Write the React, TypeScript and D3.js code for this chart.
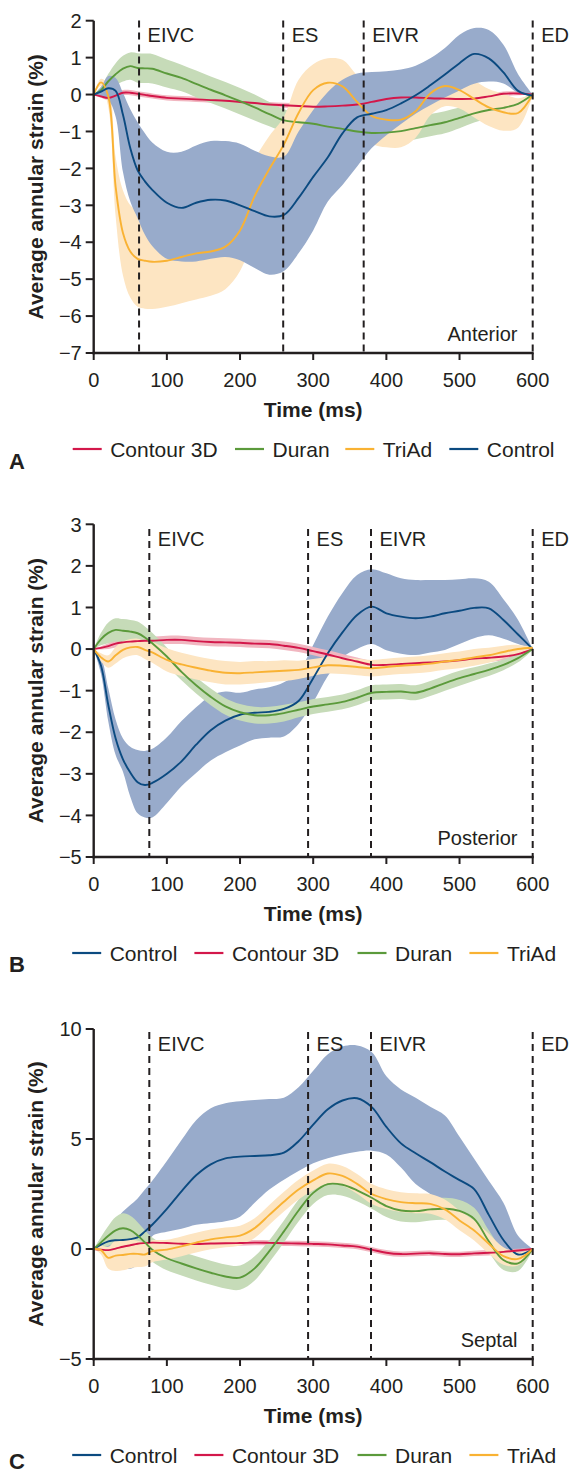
import React from 'react';
import * as d3 from 'd3';

// ---------- shared data ----------
const TIME = [0, 10, 20, 30, 40, 50, 60, 70, 80, 100, 120, 140, 160, 180, 200, 220, 240, 260, 280, 300, 320, 340, 360, 380, 400, 420, 440, 460, 480, 500, 520, 540, 560, 580, 600];
const X_TICKS = [0, 100, 200, 300, 400, 500, 600];
const EVENT_NAMES = ['EIVC', 'ES', 'EIVR', 'ED'];
const SERIES_NAMES = { control: 'Control', contour: 'Contour 3D', duran: 'Duran', triad: 'TriAd' };

// ---------- Panel A (Anterior) ----------
const A_Y_TICKS = [2, 1, 0, -1, -2, -3, -4, -5, -6, -7];
const A_EVENTS = [62, 259, 369, 600];
const A_CONTOUR_MEAN = [0, -0.05, -0.09, -0.03, 0.05, 0.05, 0.02, -0.01, -0.04, -0.09, -0.11, -0.13, -0.15, -0.17, -0.2, -0.23, -0.27, -0.29, -0.31, -0.33, -0.32, -0.3, -0.27, -0.2, -0.12, -0.08, -0.08, -0.1, -0.11, -0.12, -0.11, -0.05, 0.02, 0.03, 0];
const A_CONTOUR_SD = [0, 0.04, 0.06, 0.07, 0.07, 0.07, 0.07, 0.07, 0.07, 0.07, 0.07, 0.07, 0.07, 0.07, 0.07, 0.07, 0.07, 0.07, 0.07, 0.07, 0.07, 0.07, 0.07, 0.07, 0.07, 0.07, 0.07, 0.07, 0.07, 0.07, 0.07, 0.07, 0.06, 0.05, 0];
const A_DURAN_MEAN = [0, 0.12, 0.36, 0.55, 0.7, 0.77, 0.72, 0.71, 0.7, 0.57, 0.45, 0.29, 0.13, -0.02, -0.18, -0.35, -0.53, -0.7, -0.75, -0.79, -0.87, -0.93, -1.0, -1.04, -1.03, -0.99, -0.91, -0.83, -0.75, -0.63, -0.51, -0.42, -0.36, -0.25, 0];
const A_DURAN_SD = [0, 0.1, 0.2, 0.3, 0.35, 0.37, 0.4, 0.4, 0.4, 0.38, 0.36, 0.36, 0.36, 0.36, 0.36, 0.35, 0.33, 0.3, 0.25, 0.25, 0.25, 0.25, 0.25, 0.25, 0.28, 0.3, 0.3, 0.3, 0.3, 0.28, 0.25, 0.22, 0.18, 0.12, 0.02];
const A_TRIAD_MEAN = [0, 0.33, -0.05, -2.5, -3.75, -4.25, -4.45, -4.5, -4.53, -4.5, -4.4, -4.3, -4.25, -4.12, -3.68, -2.75, -2.02, -1.35, -0.5, 0.12, 0.32, 0.22, -0.2, -0.58, -0.68, -0.68, -0.45, 0.03, 0.23, 0.12, -0.12, -0.35, -0.48, -0.5, 0];
const A_TRIAD_SD = [0, 0.1, 0.3, 0.8, 1.15, 1.25, 1.3, 1.3, 1.28, 1.25, 1.25, 1.25, 1.2, 1.15, 1.1, 1.0, 0.9, 0.75, 0.9, 0.7, 0.66, 0.72, 0.72, 0.75, 0.75, 0.75, 0.72, 0.6, 0.55, 0.5, 0.5, 0.5, 0.5, 0.4, 0.02];
const A_CONTROL_MEAN = [0, 0.08, 0.17, 0.1, -0.55, -1.45, -2.05, -2.35, -2.58, -2.93, -3.07, -2.93, -2.85, -2.87, -3.0, -3.16, -3.3, -3.26, -2.8, -2.23, -1.7, -1.05, -0.62, -0.52, -0.42, -0.24, -0.02, 0.25, 0.54, 0.85, 1.1, 0.98, 0.6, 0.1, -0.03];
const A_CONTROL_LO = [0, -0.05, -0.15, -0.6, -2.1, -2.9, -3.35, -3.8, -4.1, -4.45, -4.52, -4.52, -4.45, -4.4, -4.49, -4.7, -4.88, -4.78, -4.3, -3.68, -2.9, -2.45, -1.95, -1.45, -1.1, -0.8, -0.52, -0.29, -0.08, 0.11, 0.29, 0.35, 0.3, 0.05, 0];
const A_CONTROL_HI = [0, 0.2, 0.5, 0.45, 0.05, -0.4, -0.75, -1.05, -1.3, -1.55, -1.55, -1.38, -1.26, -1.26, -1.33, -1.52, -1.67, -1.68, -1.0, -0.42, 0.07, 0.4, 0.57, 0.61, 0.63, 0.68, 0.78, 0.98, 1.26, 1.62, 1.8, 1.75, 1.35, 0.55, 0];

// ---------- Panel B (Posterior) ----------
const B_Y_TICKS = [3, 2, 1, 0, -1, -2, -3, -4, -5];
const B_EVENTS = [76, 293, 379, 600];
const B_CONTROL_MEAN = [0, -0.4, -1.35, -2.15, -2.65, -2.97, -3.2, -3.27, -3.22, -3.0, -2.7, -2.3, -1.95, -1.72, -1.58, -1.53, -1.51, -1.44, -1.25, -0.7, -0.1, 0.4, 0.82, 1.02, 0.86, 0.78, 0.74, 0.78, 0.86, 0.92, 0.99, 0.98, 0.7, 0.35, 0];
const B_CONTROL_LO = [0, -0.6, -1.75, -2.55, -2.95, -3.55, -3.95, -4.05, -4.05, -3.7, -3.3, -2.98, -2.68, -2.48, -2.32, -2.17, -2.13, -2.1, -1.8, -1.28, -0.65, -0.2, 0.0, 0.12, -0.03, -0.11, -0.14, -0.08, -0.02, 0.12, 0.26, 0.33, 0.25, 0.12, 0];
const B_CONTROL_HI = [0, -0.2, -0.95, -1.7, -2.15, -2.35, -2.43, -2.45, -2.4, -2.12, -1.73, -1.4, -1.12, -1.02, -1.05, -0.97, -0.92, -0.8, -0.55, 0.1, 0.78, 1.35, 1.78, 1.92, 1.82, 1.7, 1.66, 1.66, 1.66, 1.68, 1.7, 1.62, 1.2, 0.7, 0];
const B_CONTOUR_MEAN = [0, 0.03, 0.07, 0.13, 0.16, 0.18, 0.19, 0.2, 0.2, 0.22, 0.22, 0.19, 0.17, 0.16, 0.15, 0.13, 0.12, 0.08, 0.03, -0.05, -0.13, -0.22, -0.3, -0.38, -0.38, -0.36, -0.34, -0.32, -0.3, -0.27, -0.23, -0.21, -0.18, -0.12, 0];
const B_CONTOUR_SD = [0, 0.04, 0.07, 0.09, 0.1, 0.1, 0.1, 0.1, 0.1, 0.1, 0.1, 0.1, 0.1, 0.1, 0.1, 0.1, 0.1, 0.1, 0.1, 0.1, 0.1, 0.1, 0.1, 0.1, 0.1, 0.1, 0.1, 0.1, 0.1, 0.1, 0.1, 0.1, 0.09, 0.07, 0.02];
const B_DURAN_MEAN = [0, 0.24, 0.39, 0.46, 0.44, 0.42, 0.38, 0.28, 0.14, -0.18, -0.55, -0.87, -1.15, -1.38, -1.52, -1.59, -1.59, -1.54, -1.46, -1.38, -1.33, -1.27, -1.17, -1.05, -1.03, -1.02, -1.05, -0.95, -0.82, -0.7, -0.6, -0.5, -0.38, -0.22, 0];
const B_DURAN_SD = [0, 0.15, 0.25, 0.28, 0.28, 0.28, 0.28, 0.26, 0.25, 0.22, 0.2, 0.2, 0.2, 0.2, 0.2, 0.2, 0.2, 0.2, 0.18, 0.18, 0.18, 0.18, 0.18, 0.18, 0.18, 0.18, 0.18, 0.18, 0.18, 0.18, 0.16, 0.15, 0.13, 0.1, 0.02];
const B_TRIAD_MEAN = [0, -0.2, -0.3, -0.15, -0.02, 0.04, 0.05, -0.02, -0.08, -0.26, -0.37, -0.45, -0.52, -0.57, -0.58, -0.56, -0.54, -0.52, -0.5, -0.44, -0.39, -0.4, -0.43, -0.46, -0.43, -0.4, -0.38, -0.35, -0.3, -0.26, -0.2, -0.15, -0.07, 0, 0.03];
const B_TRIAD_SD = [0, 0.1, 0.15, 0.2, 0.2, 0.2, 0.2, 0.22, 0.25, 0.28, 0.28, 0.28, 0.28, 0.28, 0.27, 0.27, 0.25, 0.25, 0.22, 0.2, 0.2, 0.2, 0.2, 0.2, 0.2, 0.2, 0.2, 0.2, 0.2, 0.2, 0.2, 0.18, 0.15, 0.1, 0.02];

// ---------- Panel C (Septal) ----------
const C_Y_TICKS = [10, 5, 0, -5];
const C_EVENTS = [76, 293, 379, 600];
const C_CONTROL_MEAN = [0, 0.2, 0.35, 0.4, 0.41, 0.45, 0.53, 0.8, 1.1, 1.82, 2.62, 3.35, 3.85, 4.12, 4.2, 4.23, 4.26, 4.38, 4.9, 5.65, 6.35, 6.75, 6.85, 6.45, 5.55, 4.8, 4.35, 3.95, 3.52, 3.13, 2.72, 1.55, 0.41, -0.25, 0];
const C_CONTROL_LO = [0, -0.1, -0.4, -0.7, -0.85, -0.9, -0.7, -0.2, 0.58, 0.78, 0.92, 1.1, 1.18, 1.26, 1.47, 2.1, 2.7, 3.15, 3.55, 3.9, 4.13, 4.3, 4.42, 4.47, 4.3, 3.7, 2.95, 2.5, 2.08, 1.7, 1.15, 0.62, 0.05, -0.3, 0];
const C_CONTROL_HI = [0, 0.5, 0.95, 1.3, 1.7, 2.0, 2.3, 2.7, 3.1, 4.0, 4.95, 5.85, 6.4, 6.63, 6.72, 6.77, 6.82, 6.88, 7.35, 8.1, 8.85, 9.2, 9.25, 8.95, 7.85, 7.25, 6.88, 6.47, 6.07, 5.1, 4.1, 3.1, 2.1, 0.6, 0];
const C_CONTOUR_MEAN = [0, -0.03, -0.05, 0.02, 0.1, 0.17, 0.24, 0.27, 0.29, 0.27, 0.24, 0.23, 0.25, 0.26, 0.27, 0.29, 0.28, 0.26, 0.25, 0.23, 0.21, 0.16, 0.11, -0.03, -0.17, -0.23, -0.21, -0.19, -0.23, -0.24, -0.2, -0.17, -0.13, -0.07, 0];
const C_CONTOUR_SD = [0, 0.06, 0.1, 0.12, 0.12, 0.12, 0.12, 0.12, 0.12, 0.12, 0.12, 0.12, 0.12, 0.12, 0.12, 0.12, 0.12, 0.12, 0.12, 0.12, 0.12, 0.12, 0.12, 0.12, 0.12, 0.12, 0.12, 0.12, 0.12, 0.12, 0.12, 0.12, 0.1, 0.08, 0.02];
const C_DURAN_MEAN = [0, 0.3, 0.6, 0.85, 0.94, 0.86, 0.62, 0.3, -0.03, -0.42, -0.66, -0.88, -1.08, -1.25, -1.3, -0.88, -0.1, 0.8, 1.75, 2.55, 2.95, 2.92, 2.67, 2.33, 1.95, 1.75, 1.72, 1.8, 1.83, 1.73, 1.37, 0.35, -0.5, -0.65, 0];
const C_DURAN_SD = [0, 0.25, 0.45, 0.6, 0.68, 0.65, 0.6, 0.55, 0.55, 0.55, 0.55, 0.55, 0.55, 0.55, 0.55, 0.55, 0.5, 0.5, 0.5, 0.5, 0.5, 0.5, 0.5, 0.5, 0.5, 0.5, 0.5, 0.5, 0.5, 0.5, 0.5, 0.5, 0.45, 0.35, 0.05];
const C_TRIAD_MEAN = [0, -0.05, -0.4, -0.3, -0.27, -0.22, -0.22, -0.25, -0.1, -0.03, 0.12, 0.29, 0.44, 0.53, 0.61, 0.95, 1.55, 2.15, 2.7, 3.12, 3.43, 3.32, 2.96, 2.5, 2.27, 2.13, 2.08, 2.05, 1.8, 1.3, 0.84, 0.24, -0.32, -0.45, 0];
const C_TRIAD_SD = [0, 0.2, 0.5, 0.7, 0.7, 0.65, 0.6, 0.55, 0.5, 0.45, 0.45, 0.45, 0.45, 0.45, 0.45, 0.45, 0.45, 0.45, 0.45, 0.45, 0.45, 0.45, 0.45, 0.45, 0.45, 0.45, 0.45, 0.45, 0.45, 0.45, 0.45, 0.45, 0.4, 0.3, 0.05];

// ---------- styling ----------
const FONT = "'Liberation Sans', Arial, Helvetica, sans-serif";
const INK = '#231f20';
const LINE_COLORS: Record<string, string> = { control: '#0b4a80', contour: '#d3174a', duran: '#5b9a3b', triad: '#f9b233' };
const BAND_COLORS: Record<string, string> = { control: '#98abcb', contour: '#f1b6c0', duran: '#c6dbb8', triad: '#fde5c2' };

type Series = { mean: number[]; sd?: number[]; lo?: number[]; hi?: number[] };
type PanelCfg = {
  id: string;
  region: string;
  yDomain: [number, number];
  yRange: [number, number];
  yTicks: number[];
  events: number[];
  dashTop: number;
  letterY: number;
  order: string[];
  legendX: number[];
  series: Record<string, Series>;
};

const PANELS: PanelCfg[] = [
  {
    id: 'A', region: 'Anterior', yDomain: [-7, 2], yRange: [353, 20.7], yTicks: A_Y_TICKS, events: A_EVENTS, dashTop: 20.5, letterY: 469,
    order: ['contour', 'duran', 'triad', 'control'], legendX: [72.7, 235, 345.3, 449.3],
    series: {
      contour: { mean: A_CONTOUR_MEAN, sd: A_CONTOUR_SD },
      duran: { mean: A_DURAN_MEAN, sd: A_DURAN_SD },
      triad: { mean: A_TRIAD_MEAN, sd: A_TRIAD_SD },
      control: { mean: A_CONTROL_MEAN, lo: A_CONTROL_LO, hi: A_CONTROL_HI },
    },
  },
  {
    id: 'B', region: 'Posterior', yDomain: [-5, 3], yRange: [857, 524.3], yTicks: B_Y_TICKS, events: B_EVENTS, dashTop: 529, letterY: 972,
    order: ['control', 'contour', 'duran', 'triad'], legendX: [72.2, 194.4, 357.5, 469.4],
    series: {
      control: { mean: B_CONTROL_MEAN, lo: B_CONTROL_LO, hi: B_CONTROL_HI },
      contour: { mean: B_CONTOUR_MEAN, sd: B_CONTOUR_SD },
      duran: { mean: B_DURAN_MEAN, sd: B_DURAN_SD },
      triad: { mean: B_TRIAD_MEAN, sd: B_TRIAD_SD },
    },
  },
  {
    id: 'C', region: 'Septal', yDomain: [-5, 10], yRange: [1359, 1029], yTicks: C_Y_TICKS, events: C_EVENTS, dashTop: 1032, letterY: 1469,
    order: ['control', 'contour', 'duran', 'triad'], legendX: [72.2, 194.4, 357.5, 469.4],
    series: {
      control: { mean: C_CONTROL_MEAN, lo: C_CONTROL_LO, hi: C_CONTROL_HI },
      contour: { mean: C_CONTOUR_MEAN, sd: C_CONTOUR_SD },
      duran: { mean: C_DURAN_MEAN, sd: C_DURAN_SD },
      triad: { mean: C_TRIAD_MEAN, sd: C_TRIAD_SD },
    },
  },
];

const X_SCALE = d3.scaleLinear().domain([0, 600]).range([93.7, 532.7]);
const fmt = (v: number) => (v < 0 ? '\u2212' + Math.abs(v) : String(v));

function Panel({ p }: { p: PanelCfg }) {
  const x = X_SCALE;
  const y = d3.scaleLinear().domain(p.yDomain).range(p.yRange);
  const axisY = p.yRange[0];
  const axisTop = p.yRange[1];
  const axisX = x(0);
  const curve = d3.curveCatmullRom.alpha(0.5);

  const bandPath = (s: Series) => {
    const lo = s.lo ?? s.mean.map((m, i) => m - (s.sd as number[])[i]);
    const hi = s.hi ?? s.mean.map((m, i) => m + (s.sd as number[])[i]);
    return d3
      .area<number>()
      .x((t) => x(t))
      .y0((_, i) => y(lo[i]))
      .y1((_, i) => y(hi[i]))
      .curve(curve)(TIME) as string;
  };
  const linePath = (s: Series) =>
    d3
      .line<number>()
      .x((_, i) => x(TIME[i]))
      .y((v) => y(v))
      .curve(curve)(s.mean) as string;

  const legendY = axisY + 96;

  return (
    <g>
      {p.order.map((k) => (
        <path key={'b' + k} d={bandPath(p.series[k])} fill={BAND_COLORS[k]} stroke="none" />
      ))}
      {p.order.map((k) => (
        <path key={'l' + k} d={linePath(p.series[k])} fill="none" stroke={LINE_COLORS[k]} strokeWidth={1.9} strokeLinejoin="round" />
      ))}
      {p.events.map((e, i) => (
        <g key={'e' + i}>
          <line x1={x(e)} x2={x(e)} y1={p.dashTop} y2={axisY} stroke={INK} strokeWidth={2} strokeDasharray="7 5" />
          <text x={x(e) + 8.5} y={axisTop + 21.5} fontSize={20} fill={INK}>{EVENT_NAMES[i]}</text>
        </g>
      ))}
      <line x1={axisX} x2={axisX} y1={axisTop} y2={axisY + 1.2} stroke={INK} strokeWidth={2.4} />
      <line x1={axisX - 1.2} x2={x(600) + 1} y1={axisY} y2={axisY} stroke={INK} strokeWidth={2.4} />
      {p.yTicks.map((t) => (
        <g key={'yt' + t}>
          <line x1={axisX - 8} x2={axisX} y1={y(t)} y2={y(t)} stroke={INK} strokeWidth={2} />
          <text x={axisX - 12} y={y(t)} dy="0.36em" textAnchor="end" fontSize={20} fill={INK}>{fmt(t)}</text>
        </g>
      ))}
      {X_TICKS.map((t) => (
        <g key={'xt' + t}>
          <line x1={x(t)} x2={x(t)} y1={axisY} y2={axisY + 7} stroke={INK} strokeWidth={2} />
          <text x={x(t)} y={axisY + 34} textAnchor="middle" fontSize={20} fill={INK}>{fmt(t)}</text>
        </g>
      ))}
      <text x={517.5} y={axisY - 12} textAnchor="end" fontSize={20} fill={INK}>{p.region}</text>
      <text x={(x(0) + x(600)) / 2} y={axisY + 64} textAnchor="middle" fontSize={21} fontWeight="bold" fill={INK}>Time (ms)</text>
      <text transform={`translate(43.3, ${(axisTop + axisY) / 2}) rotate(-90)`} textAnchor="middle" fontSize={21} fontWeight="bold" fill={INK}>
        Average annular strain (%)
      </text>
      {p.order.map((k, i) => (
        <g key={'lg' + k}>
          <line x1={p.legendX[i]} x2={p.legendX[i] + 29} y1={legendY} y2={legendY} stroke={LINE_COLORS[k]} strokeWidth={2.2} />
          <text x={p.legendX[i] + 37.5} y={legendY + 7.5} fontSize={21} fill={INK}>{SERIES_NAMES[k as keyof typeof SERIES_NAMES]}</text>
        </g>
      ))}
      <text x={9} y={p.letterY} fontSize={22} fontWeight="bold" fill={INK}>{p.id}</text>
    </g>
  );
}

export default function App() {
  return (
    <svg
      width={572}
      height={1475}
      viewBox="0 0 572 1475"
      style={{ position: 'absolute', left: 0, top: 0, display: 'block', background: '#fff' }}
      fontFamily={FONT}
    >
      <rect x={0} y={0} width={572} height={1475} fill="#fff" />
      {PANELS.map((p) => (
        <Panel key={p.id} p={p} />
      ))}
    </svg>
  );
}
